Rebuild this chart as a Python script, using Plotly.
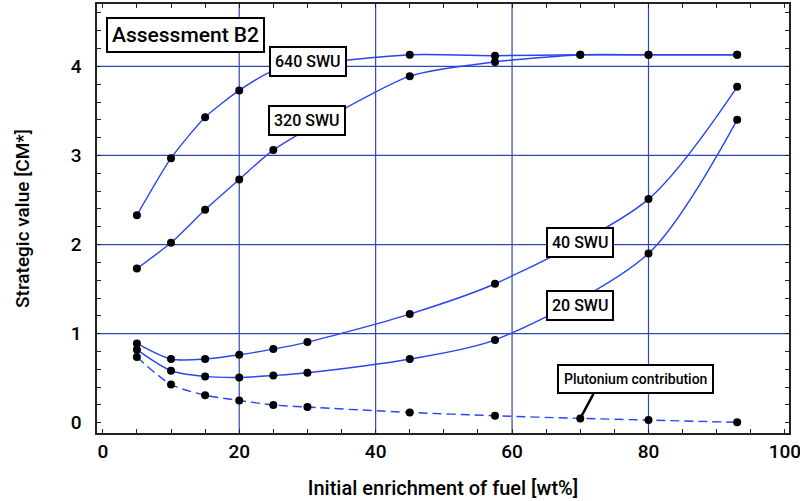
import plotly.graph_objects as go

# ---- data ----
x_640 = [5, 10, 15, 20, 25, 45, 57.5, 70, 80, 93]
y_640 = [2.33, 2.97, 3.43, 3.73, 3.95, 4.13, 4.12, 4.13, 4.13, 4.13]

x_320 = [5, 10, 15, 20, 25, 45, 57.5, 70, 80, 93]
y_320 = [1.73, 2.02, 2.39, 2.73, 3.06, 3.89, 4.05, 4.13, 4.13, 4.13]

x_40 = [5, 10, 15, 20, 25, 30, 45, 57.5, 80, 93]
y_40 = [0.89, 0.715, 0.715, 0.763, 0.827, 0.905, 1.22, 1.56, 2.51, 3.77]

x_20 = [5, 10, 15, 20, 25, 30, 45, 57.5, 80, 93]
y_20 = [0.82, 0.584, 0.52, 0.508, 0.53, 0.561, 0.715, 0.93, 1.90, 3.40]

x_pu = [5, 10, 15, 20, 25, 30, 45, 57.5, 70, 80, 93]
y_pu = [0.737, 0.43, 0.31, 0.25, 0.20, 0.176, 0.116, 0.079, 0.049, 0.03, 0.005]

x_ticks = [0, 20, 40, 60, 80, 100]
y_ticks = [0, 1, 2, 3, 4]
x_grid = [20, 40, 60, 80]
y_grid = [1, 2, 3, 4]

FONT = "Roboto, Lato, sans-serif"
LINE = "#2846f0"
GRID = "#3246b4"

fig = go.Figure()

def add_series(xs, ys, dash="solid", smooth=0.8):
    fig.add_trace(go.Scatter(
        x=xs, y=ys, mode="lines",
        line=dict(color=LINE, width=1.4, shape="spline", smoothing=smooth, dash=dash),
        hoverinfo="skip", showlegend=False))
    fig.add_trace(go.Scatter(
        x=xs, y=ys, mode="markers",
        marker=dict(color="black", size=8),
        showlegend=False))

add_series(x_640, y_640, smooth=0.6)
add_series(x_320, y_320, smooth=0.6)
add_series(x_40, y_40)
add_series(x_20, y_20)
add_series(x_pu, y_pu, dash="9px,5px")

for g in x_grid:
    fig.add_shape(type="line", x0=g, x1=g, y0=0, y1=1, xref="x", yref="paper",
                  layer="below", line=dict(color=GRID, width=1.2))
for g in y_grid:
    fig.add_shape(type="line", y0=g, y1=g, x0=0, x1=1, yref="y", xref="paper",
                  layer="below", line=dict(color=GRID, width=1.2))

box = dict(bordercolor="black", borderwidth=2, bgcolor="white", showarrow=False,
           xref="x", yref="y")

fig.add_annotation(x=12.07, y=4.355, text="Assessment B2",
                   font=dict(family=FONT, size=21, color="black", weight=500),
                   borderpad=4, **box)
for xx, yy, tt in [(30.1, 4.06, "640 SWU"), (30.0, 3.39, "320 SWU"),
                   (70.0, 2.02, "40 SWU"), (70.0, 1.32, "20 SWU")]:
    fig.add_annotation(x=xx, y=yy, text=tt,
                       font=dict(family=FONT, size=16, color="black", weight=500),
                       borderpad=4, **box)

fig.add_shape(type="line", x0=71.93, y0=0.325, x1=70.0, y1=0.049,
              xref="x", yref="y", line=dict(color="black", width=2.5))
fig.add_annotation(x=78.1, y=0.488, text="Plutonium contribution",
                   font=dict(family=FONT, size=14, color="black", weight=500),
                   borderpad=5, **box)

axis_common = dict(
    showline=True, linecolor="#222222", linewidth=1.5, mirror="allticks",
    ticks="inside", ticklen=4, tickcolor="#222222", tickwidth=1,
    showgrid=False, zeroline=False, automargin=False,
    ticklabeloverflow="allow",
    tickfont=dict(family=FONT, size=19, color="black", weight=500),
)

fig.update_xaxes(
    range=[-0.85, 100.6], tickvals=x_ticks, ticktext=[str(v) for v in x_ticks],
    minor=dict(dtick=5, tick0=0, ticks="inside", ticklen=4, tickcolor="#222222", showgrid=False),
    title=dict(text="Initial enrichment of fuel [wt%]", standoff=19,
               font=dict(family=FONT, size=20, color="black", weight=500)),
    **axis_common)
fig.update_yaxes(
    range=[-0.115, 4.70], tickvals=y_ticks, ticktext=[str(v) for v in y_ticks],
    ticklabelstandoff=10,
    minor=dict(dtick=0.2, tick0=0, ticks="inside", ticklen=4, tickcolor="#222222", showgrid=False),
    title=dict(text="Strategic value [CM*]", standoff=36,
               font=dict(family=FONT, size=19, color="black", weight=500)),
    **axis_common)

fig.update_layout(
    width=800, height=501,
    margin=dict(l=97, r=11, t=4, b=68),
    paper_bgcolor="white", plot_bgcolor="white",
    font=dict(family=FONT, color="black"),
    showlegend=False,
)

fig.write_html("out.html", config={"displayModeBar": False},
               post_script="document.body.style.margin='0';")
